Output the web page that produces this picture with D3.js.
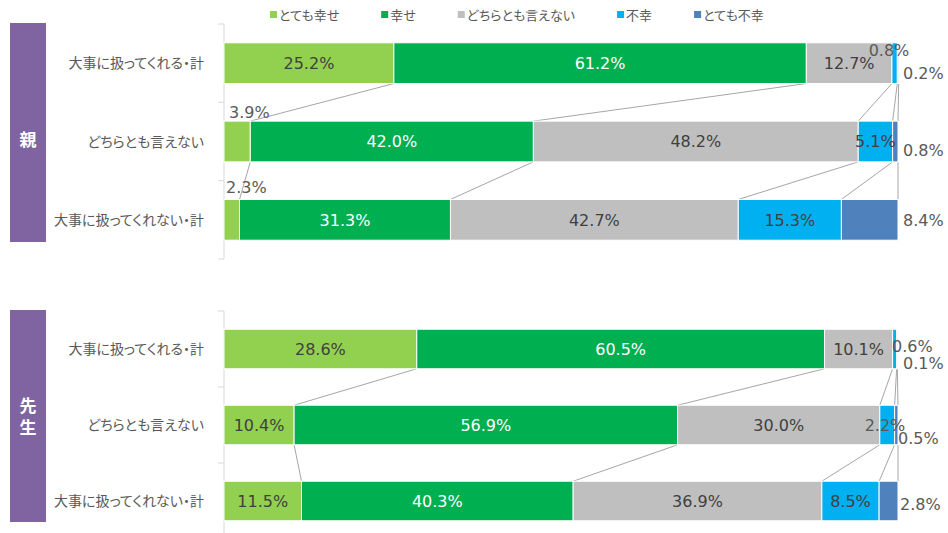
<!DOCTYPE html>
<html>
<head>
<meta charset="utf-8">
<style>
  body { margin: 0; background: #fff; }
  svg { display: block; }
  .jp { font-family: "Noto Sans CJK JP", sans-serif; font-feature-settings: "palt"; }
  .val { font-family: "DejaVu Sans", Verdana, sans-serif; font-size: 16px; }
</style>
<script src="https://cdn.jsdelivr.net/npm/d3@7"></script>
</head>
<body>
<div id="chart"></div>
<script>
// data
var seriesNames = ["とても幸せ", "幸せ", "どちらとも言えない", "不幸", "とても不幸"];
var rowLabels = ["大事に扱ってくれる・計", "どちらとも言えない", "大事に扱ってくれない・計"];
var parentValues = [
  [25.2, 61.2, 12.7, 0.8, 0.2],
  [3.9, 42.0, 48.2, 5.1, 0.8],
  [2.3, 31.3, 42.7, 15.3, 8.4]
];
var teacherValues = [
  [28.6, 60.5, 10.1, 0.6, 0.1],
  [10.4, 56.9, 30.0, 2.2, 0.5],
  [11.5, 40.3, 36.9, 8.5, 2.8]
];

var colors = ["#92D050", "#00B050", "#BFBFBF", "#00B0F0", "#4F81BD"];
var textColors = ["#404040", "#ffffff", "#404040", "#404040", "#404040"];

var width = 948, height = 533;
var svg = d3.select("#chart").append("svg")
    .attr("width", width)
    .attr("height", height);

var x = d3.scaleLinear().domain([0, 100]).range([224, 898]);

// label nudges for the thin segments: key = panel-row-series
var nudges = {
  "0-0-3": { x: 889, dy: -13, anchor: "middle" },
  "0-0-4": { x: 903, dy: 10, anchor: "start" },
  "0-1-0": { x: 229, dy: -29, anchor: "start" },
  "0-1-4": { x: 903, dy: 9, anchor: "start" },
  "0-2-0": { x: 226, dy: -33, anchor: "start" },
  "0-2-4": { x: 903, dy: 0, anchor: "start" },
  "1-0-3": { x: 892, dy: -3, anchor: "start" },
  "1-0-4": { x: 903, dy: 14, anchor: "start" },
  "1-1-3": { x: 885, dy: 0, anchor: "middle" },
  "1-1-4": { x: 898, dy: 13, anchor: "start" },
  "1-2-4": { x: 900, dy: 3, anchor: "start" }
};

function drawPanel(values, top, bottom, title, panelIdx) {
  var y = d3.scaleBand()
      .domain(rowLabels)
      .range([top, bottom])
      .paddingInner(0.48)
      .paddingOuter(0.24);

  var g = svg.append("g");

  // purple title box, vertical title text
  g.append("rect")
      .attr("x", 10).attr("y", top - 1)
      .attr("width", 36).attr("height", bottom - top - 16)
      .attr("fill", "#8064A2");
  var midY = (top + bottom - 16) / 2;
  g.append("text")
      .attr("class", "jp")
      .attr("x", 28)
      .attr("y", midY + (title.length > 1 ? 2 : 6))
      .style("writing-mode", "vertical-rl")
      .style("letter-spacing", title.length > 1 ? "5px" : "0px")
      .attr("text-anchor", "middle")
      .attr("fill", "#fff")
      .attr("font-size", 17)
      .attr("font-weight", "bold")
      .text(title);

  // category axis with ticks at band edges
  var edges = d3.range(rowLabels.length + 1).map(function(i) { return top + i * y.step(); });
  g.append("line")
      .attr("x1", x(0)).attr("x2", x(0))
      .attr("y1", edges[0]).attr("y2", edges[edges.length - 1])
      .attr("stroke", "#D9D9D9");
  g.selectAll(".tick").data(edges).enter().append("line")
      .attr("x1", x(0) - 6).attr("x2", x(0))
      .attr("y1", function(d) { return d; }).attr("y2", function(d) { return d; })
      .attr("stroke", "#D9D9D9");

  // row labels
  g.selectAll(".rowlabel").data(rowLabels).enter().append("text")
      .attr("class", "jp")
      .attr("x", 204)
      .attr("y", function(d) { return y(d) + y.bandwidth() / 2; })
      .attr("dy", "0.36em")
      .attr("text-anchor", "end")
      .attr("fill", "#595959")
      .attr("font-size", 14)
      .text(function(d) { return d; });

  var rows = values.map(function(v, r) {
    var cum = 0;
    return v.map(function(val, s) {
      var seg = { row: r, s: s, v: val, x0: cum, x1: cum + val };
      cum += val;
      return seg;
    });
  });

  // connector lines between rows
  for (var r = 0; r < rows.length - 1; r++) {
    var yA = y(rowLabels[r]) + y.bandwidth();
    var yB = y(rowLabels[r + 1]);
    g.selectAll(null).data(d3.range(rows[r].length)).enter().append("line")
        .attr("x1", function(k) { return x(rows[r][k].x1); })
        .attr("x2", function(k) { return x(rows[r + 1][k].x1); })
        .attr("y1", yA).attr("y2", yB)
        .attr("stroke", "#A6A6A6")
        .attr("stroke-width", 1);
  }

  // bars
  rows.forEach(function(segs, r) {
    var yy = y(rowLabels[r]);
    g.selectAll(null).data(segs).enter().append("rect")
        .attr("x", function(d) { return x(d.x0); })
        .attr("y", yy)
        .attr("width", function(d) { return x(d.x1) - x(d.x0); })
        .attr("height", y.bandwidth())
        .attr("fill", function(d) { return colors[d.s]; })
        .attr("stroke", "#fff")
        .attr("stroke-width", 1);
  });

  // value labels
  rows.forEach(function(segs, r) {
    var cy = y(rowLabels[r]) + y.bandwidth() / 2;
    g.selectAll(null).data(segs).enter().append("text")
        .attr("class", "val")
        .each(function(d) {
          var n = nudges[panelIdx + "-" + r + "-" + d.s];
          var t = d3.select(this);
          if (n) {
            t.attr("x", n.x).attr("y", cy + n.dy).attr("text-anchor", n.anchor)
             .attr("fill", "#595959");
          } else {
            t.attr("x", (x(d.x0) + x(d.x1)) / 2).attr("y", cy).attr("text-anchor", "middle")
             .attr("fill", textColors[d.s]);
          }
        })
        .attr("dy", "0.36em")
        .text(function(d) { return d.v.toFixed(1) + "%"; });
  });
}

drawPanel(parentValues, 24, 259, "親", 0);
drawPanel(teacherValues, 311, 539, "先生", 1);

// legend
var legend = svg.append("g");
var lx = 270;
seriesNames.forEach(function(name, i) {
  legend.append("rect")
      .attr("x", lx).attr("y", 11)
      .attr("width", 7).attr("height", 7)
      .attr("fill", colors[i]);
  var t = legend.append("text")
      .attr("class", "jp")
      .attr("x", lx + 9).attr("y", 15)
      .attr("dy", "0.36em")
      .attr("fill", "#595959")
      .attr("font-size", 13)
      .text(name);
  lx += 9 + t.node().getComputedTextLength() + 42;
});
</script>
</body>
</html>
